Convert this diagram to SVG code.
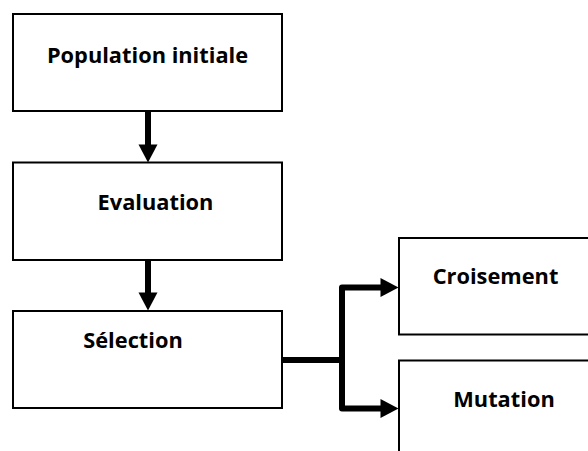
<svg xmlns="http://www.w3.org/2000/svg" width="588" height="451" viewBox="0 0 588 451">
  <style>
    .box { fill: #ffffff; stroke: #000000; stroke-width: 2; }
    .lbl { font-family: "Open Sans", "Liberation Sans", sans-serif; font-weight: bold; font-size: 21.8px; fill: #000000; text-anchor: middle; }
    .conn { fill: none; stroke: #000000; stroke-width: 6; stroke-linejoin: round; }
  </style>
  <defs>
    <marker id="ah" markerUnits="userSpaceOnUse" markerWidth="18" markerHeight="19" refX="0.5" refY="9.5" orient="auto" overflow="visible">
      <path d="M0,0 L18,9.5 L0,19 z" fill="#000000"/>
    </marker>
  </defs>
  <rect width="588" height="451" fill="#ffffff"/>
  <g id="connectors">
    <path class="conn" d="M148,111 V145" marker-end="url(#ah)"/>
    <path class="conn" d="M148,260 V293" marker-end="url(#ah)"/>
    <path class="conn" d="M282,360 H342"/>
    <path class="conn" d="M342,360 V287.5 H381" marker-end="url(#ah)"/>
    <path class="conn" d="M342,360 V408.5 H381" marker-end="url(#ah)"/>
  </g>
  <g id="population">
    <rect class="box" x="13" y="14" width="269" height="97"/>
    <text class="lbl" x="147.5" y="63">Population initiale</text>
  </g>
  <g id="evaluation">
    <rect class="box" x="13" y="162.5" width="269" height="97.5"/>
    <text class="lbl" x="155.5" y="210">Evaluation</text>
  </g>
  <g id="selection">
    <rect class="box" x="13" y="311" width="269" height="97"/>
    <text class="lbl" x="133" y="348">Sélection</text>
  </g>
  <g id="croisement">
    <rect class="box" x="399" y="238" width="200" height="96.5"/>
    <text class="lbl" x="495.5" y="284">Croisement</text>
  </g>
  <g id="mutation">
    <rect class="box" x="399" y="360.5" width="200" height="100"/>
    <text class="lbl" x="504" y="407">Mutation</text>
  </g>
</svg>
